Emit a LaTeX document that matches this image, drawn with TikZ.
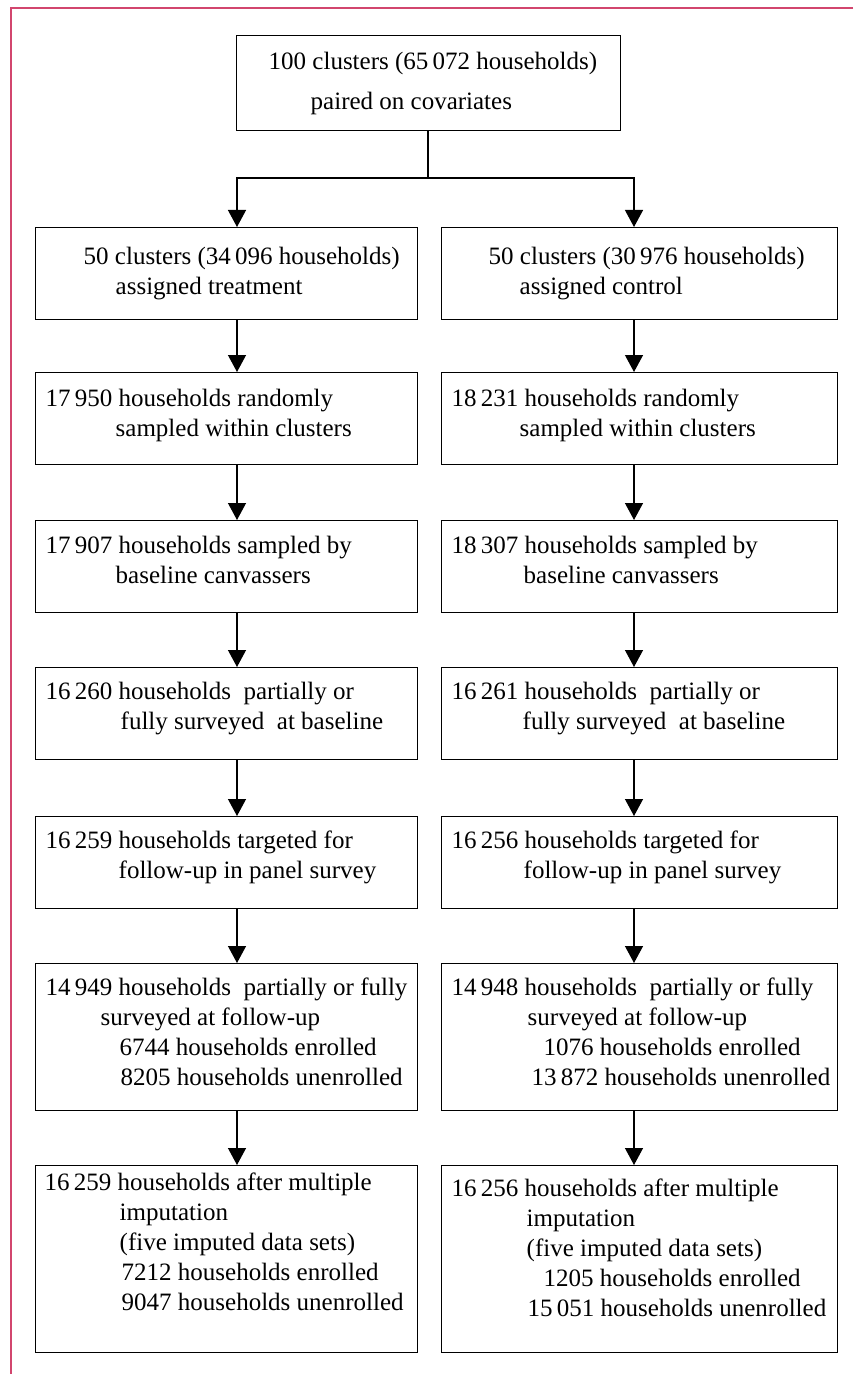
\documentclass[tikz,border=0pt]{standalone}
\usepackage{fontspec}
\setmainfont{Liberation Serif}
\usetikzlibrary{calc}
\usetikzlibrary{arrows.meta}

\definecolor{framepink}{RGB}{210,70,110}

% box text: width, height, first baseline, lines
\newcommand{\stagebox}[4]{\parbox[t][#2][t]{#1}{\rule{0pt}{#3}#4}}

\tikzset{
  stage/.style={draw, line width=0.7pt, inner sep=0pt, anchor=north west, font=\fontsize{12.5}{15}\selectfont},
  link/.style={line width=0.65pt},
  flow/.style={link, -{Triangle[length=8.5pt,width=9pt]}}
}

\begin{document}
\begin{tikzpicture}[x=0.5pt, y=-0.5pt]
\useasboundingbox (0,0) rectangle (853,1374);
\draw[framepink, line width=0.7pt] (853,8) -- (11,8) -- (11,1374);

\node[stage] (top) at (236,35) {\stagebox{192pt}{47.5pt}{17pt}{\hspace*{16pt}100 clusters (65\,072 households)\\[5pt]\hspace*{37pt}paired on covariates}};

% treatment arm
\node[stage] (t1) at (35,227) {\stagebox{191pt}{46pt}{18.5pt}{\hspace*{24pt}50 clusters (34\,096 households)\\\hspace*{40pt}assigned treatment}};
\node[stage] (t2) at (35,372) {\stagebox{191pt}{46pt}{17pt}{\hspace*{5pt}17\,950 households randomly\\\hspace*{40pt}sampled within clusters}};
\node[stage] (t3) at (35,520) {\stagebox{191pt}{46pt}{16.5pt}{\hspace*{5pt}17\,907 households sampled by\\\hspace*{40pt}baseline canvassers}};
\node[stage] (t4) at (35,667) {\stagebox{191pt}{46pt}{16pt}{\hspace*{5pt}16\,260 households\ \ partially or\\\hspace*{42.5pt}fully surveyed\ \ at baseline}};
\node[stage] (t5) at (35,816) {\stagebox{191pt}{46pt}{16pt}{\hspace*{5pt}16\,259 households targeted for\\\hspace*{41.5pt}follow-up in panel survey}};
\node[stage] (t6) at (35,963) {\stagebox{191pt}{73.5pt}{16pt}{\hspace*{5pt}14\,949 households\ \ partially or fully\\\hspace*{32.5pt}surveyed at follow-up\\\hspace*{42pt}6744 households enrolled\\\hspace*{42.5pt}8205 households unenrolled}};
\node[stage] (t7) at (35,1165) {\stagebox{191pt}{93.5pt}{12.5pt}{\hspace*{4.5pt}16\,259 households after multiple\\\hspace*{42pt}imputation\\\hspace*{42pt}(five imputed data sets)\\\hspace*{43pt}7212 households enrolled\\\hspace*{43pt}9047 households unenrolled}};

% control arm
\node[stage] (c1) at (441,227) {\stagebox{198pt}{46pt}{18.5pt}{\hspace*{23.5pt}50 clusters (30\,976 households)\\\hspace*{39pt}assigned control}};
\node[stage] (c2) at (441,372) {\stagebox{198pt}{46pt}{17pt}{\hspace*{5pt}18\,231 households randomly\\\hspace*{39pt}sampled within clusters}};
\node[stage] (c3) at (441,520) {\stagebox{198pt}{46pt}{16.5pt}{\hspace*{5pt}18\,307 households sampled by\\\hspace*{41pt}baseline canvassers}};
\node[stage] (c4) at (441,667) {\stagebox{198pt}{46pt}{16pt}{\hspace*{5pt}16\,261 households\ \ partially or\\\hspace*{40.5pt}fully surveyed\ \ at baseline}};
\node[stage] (c5) at (441,816) {\stagebox{198pt}{46pt}{16pt}{\hspace*{5pt}16\,256 households targeted for\\\hspace*{41pt}follow-up in panel survey}};
\node[stage] (c6) at (441,963) {\stagebox{198pt}{73.5pt}{16pt}{\hspace*{5pt}14\,948 households\ \ partially or fully\\\hspace*{43pt}surveyed at follow-up\\\hspace*{51pt}1076 households enrolled\\\hspace*{45pt}13\,872 households unenrolled}};
\node[stage] (c7) at (441,1165) {\stagebox{198pt}{93.5pt}{15.5pt}{\hspace*{5pt}16\,256 households after multiple\\\hspace*{42.5pt}imputation\\\hspace*{42.5pt}(five imputed data sets)\\\hspace*{51pt}1205 households enrolled\\\hspace*{43pt}15\,051 households unenrolled}};

\coordinate (tx) at (237,0);
\coordinate (cx) at (634,0);
\coordinate (split) at (428,178);

\draw[link] (split |- top.south) -- (split);
\draw[flow] (split) -| (t1.north -| tx);
\draw[flow] (split) -| (c1.north -| cx);

\foreach \a [evaluate=\a as \b using int(\a+1)] in {1,...,6}{
  \draw[flow] (t\a.south -| tx) -- (t\b.north -| tx);
  \draw[flow] (c\a.south -| cx) -- (c\b.north -| cx);
}

\end{tikzpicture}
\end{document}
